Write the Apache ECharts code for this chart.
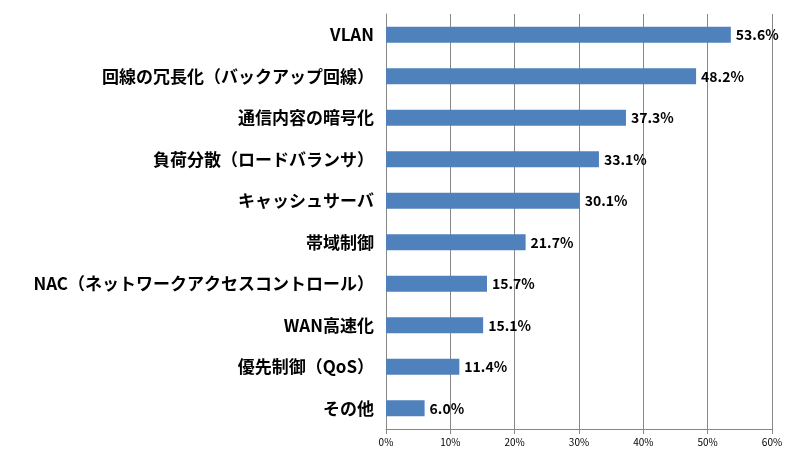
<!DOCTYPE html>
<html>
<head>
<meta charset="utf-8">
<script src="https://cdn.jsdelivr.net/npm/echarts@6/dist/echarts.min.js"></script>
<style>
  html, body { margin: 0; padding: 0; background: #fff; }
  #chart { width: 800px; height: 462px; }
</style>
</head>
<body>
<div id="chart"></div>
<script>
const categories = [
  "VLAN",
  "回線の冗長化（バックアップ回線）",
  "通信内容の暗号化",
  "負荷分散（ロードバランサ）",
  "キャッシュサーバ",
  "帯域制御",
  "NAC（ネットワークアクセスコントロール）",
  "WAN高速化",
  "優先制御（QoS）",
  "その他"
];
const values = [53.6, 48.2, 37.3, 33.1, 30.1, 21.7, 15.7, 15.1, 11.4, 6.0];

const chart = echarts.init(document.getElementById("chart"));
chart.setOption({
  animation: false,
  grid: { left: 386, right: 28, top: 14, bottom: 33 },
  xAxis: {
    type: "value",
    min: 0,
    max: 60,
    interval: 10,
    axisLine: { show: true, lineStyle: { color: "#888" } },
    axisTick: { show: true, lineStyle: { color: "#888" } },
    splitLine: { show: true, lineStyle: { color: "#888" } },
    axisLabel: {
      color: "#000",
      fontSize: 10,
      fontFamily: "Noto Sans CJK JP",
      formatter: "{value}%"
    }
  },
  yAxis: {
    type: "category",
    data: categories,
    inverse: true,
    axisLine: { show: true, lineStyle: { color: "#888" } },
    axisTick: { show: false },
    axisLabel: {
      color: "#000",
      fontSize: 17,
      fontWeight: "bold",
      fontFamily: "Noto Sans CJK JP",
      margin: 12
    }
  },
  series: [{
    type: "bar",
    data: values,
    barWidth: 16,
    itemStyle: { color: "#4F81BD" },
    label: {
      show: true,
      position: "right",
      color: "#000",
      fontSize: 14,
      fontWeight: "bold",
      fontFamily: "Noto Sans CJK JP",
      formatter: p => p.value.toFixed(1) + "%"
    }
  }]
});
</script>
</body>
</html>
